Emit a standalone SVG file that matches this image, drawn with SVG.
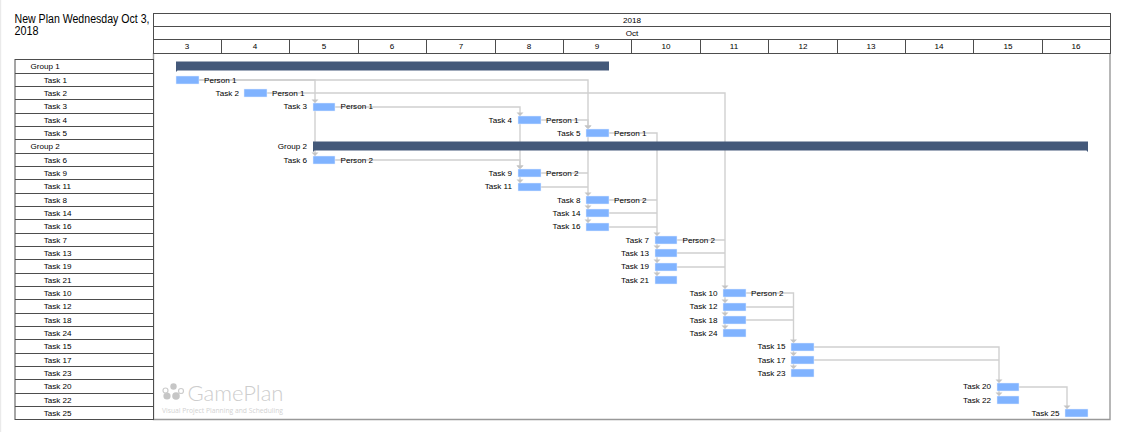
<svg xmlns="http://www.w3.org/2000/svg" width="1122" height="432" viewBox="0 0 1122 432">
<style>
text{font-family:"Liberation Sans",Arial,sans-serif;font-size:8.1px;fill:#000}
.m{text-anchor:middle}.e{text-anchor:end}
.hd{fill:#fff;stroke:#4d4d4d;stroke-width:1}
.bar{fill:#80b3ff;stroke:#e6f0ff;stroke-width:.5}
.grp{fill:#44597a}
.c{fill:none;stroke:#d0d0d0;stroke-width:1.4;marker-end:url(#a)}
.n{fill:none;stroke:#d0d0d0;stroke-width:1.4}
.r{fill:#fff;stroke:#4d4d4d;stroke-width:1}
</style>
<defs><marker id="a" markerUnits="userSpaceOnUse" markerWidth="8" markerHeight="5" refX="4" refY="4.500" viewBox="0 0 8 5"><path d="M0.500 1H7.500L4 4.500Z" fill="#c4c4c4"/></marker></defs>
<rect width="1122" height="432" fill="#fff"/>
<rect x="0" y="0" width="1.2" height="432" fill="#eaeaea"/>
<g id="title"><text x="14.500" y="23" textLength="135" lengthAdjust="spacingAndGlyphs" style="font-size:12px">New Plan Wednesday Oct 3,</text><text x="14.500" y="35" textLength="24" lengthAdjust="spacingAndGlyphs" style="font-size:12px">2018</text></g>
<g id="timeline">
<path d="M153.500 53V419.500H1110V53" fill="none" stroke="#999" stroke-width="1.400"/>
<rect class="hd" x="153.500" y="13.500" width="957" height="13"/><rect class="hd" x="153.500" y="26.500" width="957" height="13"/><rect class="hd" x="153.500" y="39.500" width="957" height="14"/>
<path d="M221.500 39.500V53.500M289.500 39.500V53.500M358.500 39.500V53.500M426.500 39.500V53.500M495.500 39.500V53.500M563.500 39.500V53.500M631.500 39.500V53.500M700.500 39.500V53.500M768.500 39.500V53.500M837.500 39.500V53.500M905.500 39.500V53.500M973.500 39.500V53.500M1042.500 39.500V53.500" stroke="#4d4d4d" fill="none"/>
<text class="m" x="632" y="23">2018</text><text class="m" x="632" y="36">Oct</text>
<text class="m" x="187" y="49">3</text><text class="m" x="255" y="49">4</text><text class="m" x="324" y="49">5</text><text class="m" x="392" y="49">6</text><text class="m" x="461" y="49">7</text><text class="m" x="529" y="49">8</text><text class="m" x="597" y="49">9</text><text class="m" x="666" y="49">10</text><text class="m" x="734" y="49">11</text><text class="m" x="803" y="49">12</text><text class="m" x="871" y="49">13</text><text class="m" x="939" y="49">14</text><text class="m" x="1008" y="49">15</text><text class="m" x="1076" y="49">16</text>
</g>
<g id="rows">
<rect class="r" x="15" y="59.500" width="138.500" height="360"/>
<path d="M15 73.500H153.500M15 86.500H153.500M15 99.500H153.500M15 113.500H153.500M15 126.500H153.500M15 139.500H153.500M15 153.500H153.500M15 166.500H153.500M15 179.500H153.500M15 193.500H153.500M15 206.500H153.500M15 219.500H153.500M15 233.500H153.500M15 246.500H153.500M15 259.500H153.500M15 273.500H153.500M15 286.500H153.500M15 299.500H153.500M15 313.500H153.500M15 326.500H153.500M15 339.500H153.500M15 353.500H153.500M15 366.500H153.500M15 379.500H153.500M15 393.500H153.500M15 406.500H153.500" stroke="#4d4d4d" fill="none"/>
<text x="30.500" y="69">Group 1</text><text x="43.700" y="83">Task 1</text><text x="43.700" y="96">Task 2</text><text x="43.700" y="109">Task 3</text><text x="43.700" y="123">Task 4</text><text x="43.700" y="136">Task 5</text><text x="30.500" y="149">Group 2</text><text x="43.700" y="163">Task 6</text><text x="43.700" y="176">Task 9</text><text x="43.700" y="189">Task 11</text><text x="43.700" y="203">Task 8</text><text x="43.700" y="216">Task 14</text><text x="43.700" y="229">Task 16</text><text x="43.700" y="243">Task 7</text><text x="43.700" y="256">Task 13</text><text x="43.700" y="269">Task 19</text><text x="43.700" y="283">Task 21</text><text x="43.700" y="296">Task 10</text><text x="43.700" y="309">Task 12</text><text x="43.700" y="323">Task 18</text><text x="43.700" y="336">Task 24</text><text x="43.700" y="349">Task 15</text><text x="43.700" y="363">Task 17</text><text x="43.700" y="376">Task 23</text><text x="43.700" y="389">Task 20</text><text x="43.700" y="403">Task 22</text><text x="43.700" y="416">Task 25</text>
</g>
<g id="logo">
<g fill="#c6c6c6"><circle cx="173.500" cy="386.500" r="3.200"/><circle cx="167" cy="396" r="3.600"/><circle cx="176" cy="396" r="3.800"/></g>
<g fill="none" stroke="#cdcdcd" stroke-width="1.200"><circle cx="165.500" cy="390.500" r="2.500"/><circle cx="181" cy="391" r="2.500"/></g>
<text x="187.500" y="401" textLength="96" lengthAdjust="spacingAndGlyphs" style="font-family:'Lato','Open Sans',sans-serif;font-size:21.500px;fill:#cdcdcd;font-weight:300">GamePlan</text>
<text x="162" y="413" textLength="121" lengthAdjust="spacingAndGlyphs" style="font-family:'Open Sans','Liberation Sans',sans-serif;font-size:6.800px;fill:#d2d2d2">Visual Project Planning and Scheduling</text>
</g>
<g id="connectors">
<path class="c" d="M199 80H315V103"/><path class="c" d="M315 107V156"/>
<path class="c" d="M199 80H588V129"/><path class="c" d="M588 137V196"/>
<path class="c" d="M267 93H725V289"/>
<path class="c" d="M335 107H520V116"/><path class="c" d="M520 124V169"/>
<path class="c" d="M541 120H588V129"/>
<path class="c" d="M609 133H657V236"/>
<path class="c" d="M335 160H520V169"/>
<path class="c" d="M520 177V183"/>
<path class="n" d="M541 173H588M541 187H588"/>
<path class="c" d="M588 204V209"/><path class="c" d="M588 217V223"/>
<path class="n" d="M609 200H657M609 213H657M609 227H657"/>
<path class="c" d="M657 244V249"/><path class="c" d="M657 257V263"/><path class="c" d="M657 271V276"/>
<path class="n" d="M677 240H725M677 253H725M677 267H725"/>
<path class="c" d="M725 297V303"/><path class="c" d="M725 311V316"/><path class="c" d="M725 324V329"/>
<path class="c" d="M746 293H793.500V343"/>
<path class="n" d="M746 307H793.500M746 320H793.500"/>
<path class="c" d="M793.500 351V356"/><path class="c" d="M793.500 364V369"/>
<path class="c" d="M814 347H999V383"/>
<path class="n" d="M814 360H999"/>
<path class="c" d="M999 391V396"/>
<path class="c" d="M1019 387H1067V409"/>
</g>
<g id="group-1"><path class="grp" d="M176 61.500H609V70.500H177.500L176 72Z"/></g>
<g id="group-2"><path class="grp" d="M313 141.500H1088V152L1086.500 150.500H314.500L313 152Z"/><text class="e" x="307" y="149">Group 2</text></g>
<g id="task-1"><rect class="bar" x="176" y="76" width="23" height="8"/><text x="204" y="83">Person 1</text></g>
<g id="task-2"><rect class="bar" x="244" y="89" width="23" height="8"/><text class="e" x="239" y="96">Task 2</text><text x="272" y="96">Person 1</text></g>
<g id="task-3"><rect class="bar" x="313" y="103" width="22" height="8"/><text class="e" x="307" y="109">Task 3</text><text x="340.500" y="109">Person 1</text></g>
<g id="task-4"><rect class="bar" x="518" y="116" width="23" height="8"/><text class="e" x="512" y="123">Task 4</text><text x="546" y="123">Person 1</text></g>
<g id="task-5"><rect class="bar" x="586" y="129" width="23" height="8"/><text class="e" x="580.500" y="136">Task 5</text><text x="614" y="136">Person 1</text></g>
<g id="task-6"><rect class="bar" x="313" y="156" width="22" height="8"/><text class="e" x="307" y="163">Task 6</text><text x="340.500" y="163">Person 2</text></g>
<g id="task-9"><rect class="bar" x="518" y="169" width="23" height="8"/><text class="e" x="512" y="176">Task 9</text><text x="546" y="176">Person 2</text></g>
<g id="task-11"><rect class="bar" x="518" y="183" width="23" height="8"/><text class="e" x="512" y="189">Task 11</text></g>
<g id="task-8"><rect class="bar" x="586" y="196" width="23" height="8"/><text class="e" x="580.500" y="203">Task 8</text><text x="614" y="203">Person 2</text></g>
<g id="task-14"><rect class="bar" x="586" y="209" width="23" height="8"/><text class="e" x="580.500" y="216">Task 14</text></g>
<g id="task-16"><rect class="bar" x="586" y="223" width="23" height="8"/><text class="e" x="580.500" y="229">Task 16</text></g>
<g id="task-7"><rect class="bar" x="655" y="236" width="22" height="8"/><text class="e" x="649" y="243">Task 7</text><text x="682.500" y="243">Person 2</text></g>
<g id="task-13"><rect class="bar" x="655" y="249" width="22" height="8"/><text class="e" x="649" y="256">Task 13</text></g>
<g id="task-19"><rect class="bar" x="655" y="263" width="22" height="8"/><text class="e" x="649" y="269">Task 19</text></g>
<g id="task-21"><rect class="bar" x="655" y="276" width="22" height="8"/><text class="e" x="649" y="283">Task 21</text></g>
<g id="task-10"><rect class="bar" x="723" y="289" width="23" height="8"/><text class="e" x="717.500" y="296">Task 10</text><text x="751" y="296">Person 2</text></g>
<g id="task-12"><rect class="bar" x="723" y="303" width="23" height="8"/><text class="e" x="717.500" y="309">Task 12</text></g>
<g id="task-18"><rect class="bar" x="723" y="316" width="23" height="8"/><text class="e" x="717.500" y="323">Task 18</text></g>
<g id="task-24"><rect class="bar" x="723" y="329" width="23" height="8"/><text class="e" x="717.500" y="336">Task 24</text></g>
<g id="task-15"><rect class="bar" x="791" y="343" width="23" height="8"/><text class="e" x="785.500" y="349">Task 15</text></g>
<g id="task-17"><rect class="bar" x="791" y="356" width="23" height="8"/><text class="e" x="785.500" y="363">Task 17</text></g>
<g id="task-23"><rect class="bar" x="791" y="369" width="23" height="8"/><text class="e" x="785.500" y="376">Task 23</text></g>
<g id="task-20"><rect class="bar" x="997" y="383" width="22" height="8"/><text class="e" x="991" y="389">Task 20</text></g>
<g id="task-22"><rect class="bar" x="997" y="396" width="22" height="8"/><text class="e" x="991" y="403">Task 22</text></g>
<g id="task-25"><rect class="bar" x="1065" y="409" width="23" height="8"/><text class="e" x="1059.500" y="416">Task 25</text></g>
</svg>
